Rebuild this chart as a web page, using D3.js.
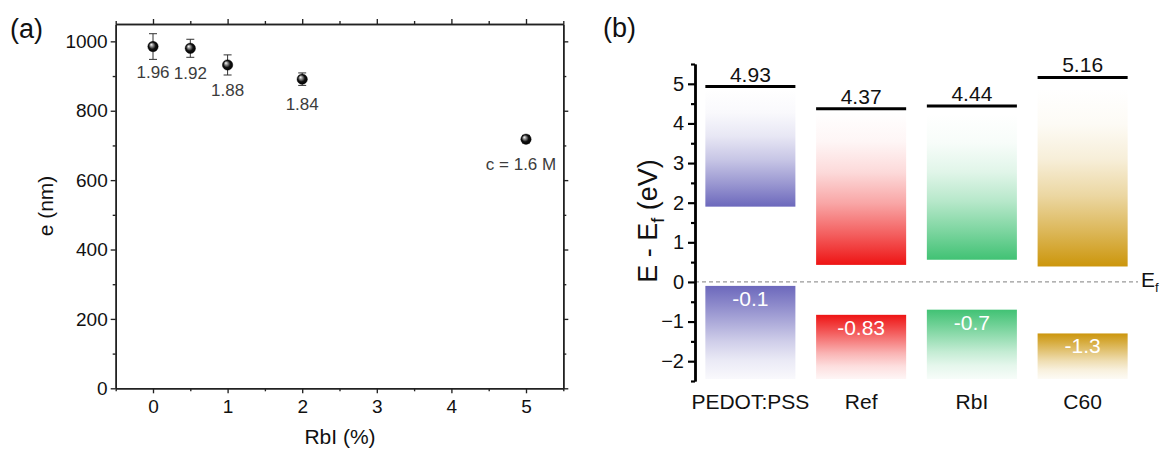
<!DOCTYPE html>
<html><head><meta charset="utf-8">
<script src="https://cdn.jsdelivr.net/npm/d3@7"></script>
<style>body{margin:0;background:#fff} text{font-family:"Liberation Sans",Arial,sans-serif}</style>
</head><body><svg id="c" width="1161" height="449"></svg>
<script>
// ---- panel (a) data ----
const rbiPercent = [0, 0.5, 1, 2, 5];
const thicknessNm = [985, 980, 932, 891, 718];
const thicknessErr = [37, 26, 29, 18, 11];
const pointLabels = ["1.96", "1.92", "1.88", "1.84", "c = 1.6 M"];
const xTicksA = [0, 1, 2, 3, 4, 5];
const yTicksA = [0, 200, 400, 600, 800, 1000];

// ---- panel (b) data ----
const layers = ["PEDOT:PSS", "Ref", "RbI", "C60"];
const upperLevel = [4.93, 4.37, 4.44, 5.16];
const upperBandTop = [4.86, 4.31, 4.25, 4.88];
const upperBandBottom = [1.9, 0.43, 0.56, 0.39];
const lowerLevel = [-0.1, -0.83, -0.7, -1.3];
const lowerBandBottom = [-2.45, -2.45, -2.45, -2.45];
const layerColors = ["#6c68bc", "#ee1414", "#41c274", "#cc960c"];
const yTicksB = [-2, -1, 0, 1, 2, 3, 4, 5];

const FONT = '"Liberation Sans", Arial, sans-serif';
const fmt = d3.format("d");
const svg = d3.select("#c");
const defs = svg.append("defs");

// sphere marker gradient
const sg = defs.append("radialGradient").attr("id", "sphere").attr("cx", "50%").attr("cy", "50%").attr("r", "55%").attr("fx", "32%").attr("fy", "30%");
sg.append("stop").attr("offset", "0%").attr("stop-color", "#ffffff");
sg.append("stop").attr("offset", "25%").attr("stop-color", "#9a9a9a");
sg.append("stop").attr("offset", "60%").attr("stop-color", "#111");
sg.append("stop").attr("offset", "100%").attr("stop-color", "#000");

// ================= Panel (a) =================
const xA = d3.scaleLinear().domain([-0.5, 5.5]).range([115.7, 563.3]);
const yA = d3.scaleLinear().domain([0, 1050]).range([388.3, 24]);
const gA = svg.append("g");
const axColA = "#222";

function styleAxis(g, col, w, fs) {
  g.attr("font-family", FONT).attr("font-size", fs);
  g.select(".domain").attr("stroke", col).attr("stroke-width", w);
  g.selectAll(".tick line").attr("stroke", col).attr("stroke-width", w * 0.9);
  g.selectAll(".tick text").attr("font-size", fs).attr("fill", "#111").attr("font-family", FONT);
}
const x0 = xA.range()[0], x1 = xA.range()[1], y0 = yA.range()[0], y1 = yA.range()[1];
const minorY = d3.range(100, 1050, 200);
const minorX = d3.range(-0.5, 5.6, 1);

gA.append("g").attr("transform", `translate(${x0},0)`).call(d3.axisLeft(yA).tickValues(minorY).tickSize(3).tickFormat("").tickSizeOuter(0)).call(styleAxis, axColA, 1.5, 19);
gA.append("g").attr("transform", `translate(${x0},0)`).call(d3.axisLeft(yA).tickValues(yTicksA).tickFormat(fmt).tickSize(5).tickPadding(3).tickSizeOuter(0)).call(styleAxis, axColA, 1.5, 19);
gA.append("g").attr("transform", `translate(${x1},0)`).call(d3.axisRight(yA).tickValues(minorY).tickSize(3).tickFormat("").tickSizeOuter(0)).call(styleAxis, axColA, 1.5, 19);
gA.append("g").attr("transform", `translate(${x1},0)`).call(d3.axisRight(yA).tickValues(yTicksA).tickSize(5).tickFormat("").tickSizeOuter(0)).call(styleAxis, axColA, 1.5, 19);
gA.append("g").attr("transform", `translate(0,${y0})`).call(d3.axisBottom(xA).tickValues(minorX).tickSize(3).tickFormat("").tickSizeOuter(0)).call(styleAxis, axColA, 1.5, 19);
gA.append("g").attr("transform", `translate(0,${y0})`).call(d3.axisBottom(xA).tickValues(xTicksA).tickFormat(fmt).tickSize(5).tickPadding(6).tickSizeOuter(0)).call(styleAxis, axColA, 1.5, 19);
gA.append("g").attr("transform", `translate(0,${y1})`).call(d3.axisTop(xA).tickValues(minorX).tickSize(3).tickFormat("").tickSizeOuter(0)).call(styleAxis, axColA, 1.5, 19);
gA.append("g").attr("transform", `translate(0,${y1})`).call(d3.axisTop(xA).tickValues(xTicksA).tickSize(5).tickFormat("").tickSizeOuter(0)).call(styleAxis, axColA, 1.5, 19);

// error bars
const pts = rbiPercent.map((r, i) => ({ r, v: thicknessNm[i], e: thicknessErr[i], lab: pointLabels[i] }));
const eb = gA.append("g").attr("stroke", "#333").attr("stroke-width", 1);
pts.forEach(d => {
  eb.append("line").attr("x1", xA(d.r)).attr("x2", xA(d.r)).attr("y1", yA(d.v - d.e)).attr("y2", yA(d.v + d.e));
  eb.append("line").attr("x1", xA(d.r) - 4).attr("x2", xA(d.r) + 4).attr("y1", yA(d.v - d.e)).attr("y2", yA(d.v - d.e));
  eb.append("line").attr("x1", xA(d.r) - 4).attr("x2", xA(d.r) + 4).attr("y1", yA(d.v + d.e)).attr("y2", yA(d.v + d.e));
});
gA.append("g").selectAll("circle").data(pts).join("circle")
  .attr("cx", d => xA(d.r)).attr("cy", d => yA(d.v)).attr("r", 5.2).attr("fill", "url(#sphere)").attr("stroke", "#000").attr("stroke-width", 0.4);
gA.append("g").selectAll("text").data(pts).join("text")
  .attr("x", (d, i) => xA(d.r) + (i === 4 ? -5 : 0))
  .attr("y", d => yA(d.v) + 31)
  .attr("text-anchor", "middle").attr("font-size", 17).attr("fill", "#3c3c3c")
  .text(d => d.lab);

gA.append("text").attr("x", 340).attr("y", 444).attr("text-anchor", "middle").attr("font-size", 21).attr("fill", "#111").text("RbI (%)");
gA.append("text").attr("transform", "translate(53,206) rotate(-90)").attr("text-anchor", "middle").attr("font-size", 21).attr("fill", "#111").text("e (nm)");
svg.append("text").attr("x", 10).attr("y", 38).attr("font-size", 27).attr("fill", "#111").text("(a)");

// ================= Panel (b) =================
const xB = d3.scaleBand().domain(layers).range([695, 1138]).paddingInner(0.187).paddingOuter(0.0935);
const yB = d3.scaleLinear().domain([-2.5, 5.5]).range([381, 64]);
const gB = svg.append("g");
const bw = xB.bandwidth();

const upStops = [[0, 0.0], [0.2, 0.04], [0.4, 0.16], [0.6, 0.38], [0.8, 0.68], [1, 1]];
const loStops = [[0, 1], [0.2, 0.78], [0.4, 0.55], [0.6, 0.32], [0.8, 0.14], [1, 0.04]];
layerColors.forEach((c, i) => {
  const gu = defs.append("linearGradient").attr("id", "up" + i).attr("x1", 0).attr("y1", 0).attr("x2", 0).attr("y2", 1);
  upStops.forEach(s => gu.append("stop").attr("offset", s[0]).attr("stop-color", c).attr("stop-opacity", s[1]));
  const gl = defs.append("linearGradient").attr("id", "lo" + i).attr("x1", 0).attr("y1", 0).attr("x2", 0).attr("y2", 1);
  loStops.forEach(s => gl.append("stop").attr("offset", s[0]).attr("stop-color", c).attr("stop-opacity", s[1]));
});

// dashed Ef line
gB.append("line").attr("x1", 695).attr("x2", 1138).attr("y1", yB(0)).attr("y2", yB(0))
  .attr("stroke", "#999").attr("stroke-width", 1.2).attr("stroke-dasharray", "4,3");

// upper bands
gB.append("g").selectAll("rect").data(layers).join("rect")
  .attr("x", d => xB(d)).attr("width", bw)
  .attr("y", (d, i) => yB(upperBandTop[i]))
  .attr("height", (d, i) => yB(upperBandBottom[i]) - yB(upperBandTop[i]))
  .attr("fill", (d, i) => `url(#up${i})`);
// lower bands
gB.append("g").selectAll("rect").data(layers).join("rect")
  .attr("x", d => xB(d)).attr("width", bw)
  .attr("y", (d, i) => yB(lowerLevel[i]))
  .attr("height", (d, i) => yB(lowerBandBottom[i]) - yB(lowerLevel[i]))
  .attr("fill", (d, i) => `url(#lo${i})`);
// level lines
gB.append("g").selectAll("line").data(layers).join("line")
  .attr("x1", d => xB(d)).attr("x2", d => xB(d) + bw)
  .attr("y1", (d, i) => yB(upperLevel[i])).attr("y2", (d, i) => yB(upperLevel[i]))
  .attr("stroke", "#000").attr("stroke-width", 3);
gB.append("g").selectAll("text").data(layers).join("text")
  .attr("x", d => xB(d) + bw / 2).attr("y", (d, i) => yB(upperLevel[i]) - 5)
  .attr("text-anchor", "middle").attr("font-size", 21).attr("fill", "#111")
  .text((d, i) => upperLevel[i]);
gB.append("g").selectAll("text").data(layers).join("text")
  .attr("x", d => xB(d) + bw / 2).attr("y", (d, i) => yB(lowerLevel[i]) + 20)
  .attr("text-anchor", "middle").attr("font-size", 21).attr("fill", "#fff")
  .text((d, i) => lowerLevel[i]);
// category labels
gB.append("g").selectAll("text").data(layers).join("text")
  .attr("x", d => xB(d) + bw / 2).attr("y", 409)
  .attr("text-anchor", "middle").attr("font-size", 21).attr("fill", "#111")
  .text(d => d);

// y axis
gB.append("g").attr("transform", "translate(695,0)")
  .call(d3.axisLeft(yB).tickValues(d3.range(-2.5, 5.6, 1)).tickSize(4).tickFormat("").tickSizeOuter(0)).call(styleAxis, "#000", 2.4, 20);
gB.append("g").attr("transform", "translate(695,0)")
  .call(d3.axisLeft(yB).tickValues(yTicksB).tickFormat(fmt).tickSize(7).tickPadding(4).tickSizeOuter(0)).call(styleAxis, "#000", 2.4, 20);

// Ef label
const ef = gB.append("text").attr("x", 1141).attr("y", yB(0) + 5).attr("font-size", 21).attr("fill", "#111");
ef.append("tspan").text("E");
ef.append("tspan").attr("font-size", 13).attr("dy", 5).text("f");

// y title
const yt = gB.append("text").attr("transform", "translate(657,221) rotate(-90)").attr("text-anchor", "middle").attr("font-size", 27).attr("fill", "#111");
yt.append("tspan").text("E - E");
yt.append("tspan").attr("font-size", 18).attr("dy", 7).text("f");
yt.append("tspan").attr("dy", -7).text(" (eV)");

svg.append("text").attr("x", 603).attr("y", 37).attr("font-size", 27).attr("fill", "#111").text("(b)");
</script></body></html>
